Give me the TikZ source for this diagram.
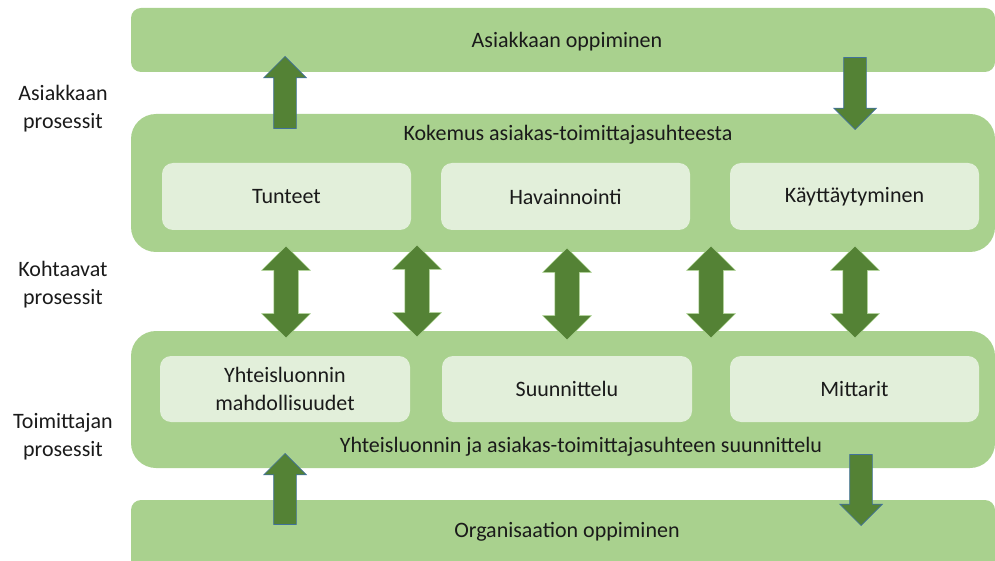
\documentclass[tikz,border=0pt]{standalone}
\usepackage{fontspec}
\setmainfont{Carlito}
\usetikzlibrary{shapes.arrows}
\definecolor{barg}{HTML}{A9D18E}
\definecolor{innerg}{HTML}{E2EFDA}
\definecolor{arrg}{HTML}{548235}
\definecolor{arrline}{HTML}{41719C}
\definecolor{txt}{HTML}{1A1A1A}
\tikzset{
  band/.style={fill=barg, draw=none, rounded corners=10pt, minimum width=864pt, inner sep=0pt, text=txt},
  bigbox/.style={fill=barg, draw=none, rounded corners=25pt, minimum width=864pt, inner sep=0pt},
  innerbox/.style={fill=innerg, draw=none, rounded corners=11pt, minimum height=67pt, inner sep=0pt, text=txt, align=center},
  lbl/.style={text=txt, inner sep=0pt, align=center},
  blockarrow/.style={single arrow, fill=arrg, draw=arrline, line width=0.7pt, inner xsep=0pt, inner ysep=11pt,
     minimum height=72pt, single arrow head extend=10pt, single arrow tip angle=90, anchor=tip},
  twoway/.style={double arrow, fill=arrg, draw=barg, line width=0.5pt, inner xsep=0pt, inner ysep=12pt,
     minimum height=92pt, double arrow head extend=12pt, double arrow tip angle=90, rotate=90}
}
\begin{document}
\begin{tikzpicture}[x=1pt,y=-1pt, font=\fontsize{22}{28}\selectfont]
\useasboundingbox (0,0) rectangle (995,561);
% bands and boxes
\node[band, minimum height=64pt] (topbar) at (563,40) {};
\node[lbl] (toptxt) at (567,42) {Asiakkaan oppiminen};
\node[bigbox, minimum height=138pt] (cust) at (563,183) {};
\node[lbl] (custtxt) at (568,135) {Kokemus asiakas-toimittajasuhteesta};
\node[innerbox, minimum width=249pt] (tunteet) at (286.5,196.5) {Tunteet};
\node[innerbox, minimum width=249pt] (hav) at (565.5,196.5) {Havainnointi};
\node[innerbox, minimum width=249pt] (kay) at (854.5,196.5) {Käyttäytyminen};
\node[bigbox, minimum height=137pt] (supp) at (563,399.5) {};
\node[lbl] (supptxt) at (581,447) {Yhteisluonnin ja asiakas-toimittajasuhteen suunnittelu};
\node[innerbox, minimum width=250pt, minimum height=66pt] (yht) at (285,389) {Yhteisluonnin\\mahdollisuudet};
\node[innerbox, minimum width=250pt, minimum height=66pt] (suun) at (567,389) {Suunnittelu};
\node[innerbox, minimum width=249pt, minimum height=66pt] (mitt) at (854.5,389) {Mittarit};
\node[band, minimum height=75pt] (botbar) at (563,537.5) {};
\node[lbl] (bottxt) at (567,532) {Organisaation oppiminen};
% left labels
\node[lbl] (l1) at (63,109) {Asiakkaan\\prosessit};
\node[lbl] (l2) at (63,285) {Kohtaavat\\prosessit};
\node[lbl] (l3) at (63,437) {Toimittajan\\prosessit};
% arrows
\node[blockarrow, rotate=90] (up1) at (285,56) {};
\node[blockarrow, rotate=-90] (down1) at (855,130) {};
\node[blockarrow, rotate=90, minimum height=71pt] (up2) at (285,453) {};
\node[blockarrow, rotate=-90, minimum height=71pt] (down2) at (861,526) {};
\node[twoway] (d1) at (286,292) {};
\node[twoway] (d2) at (417,291) {};
\node[twoway] (d3) at (567,294) {};
\node[twoway] (d4) at (711,292) {};
\node[twoway] (d5) at (855,292) {};
\end{tikzpicture}
\end{document}
